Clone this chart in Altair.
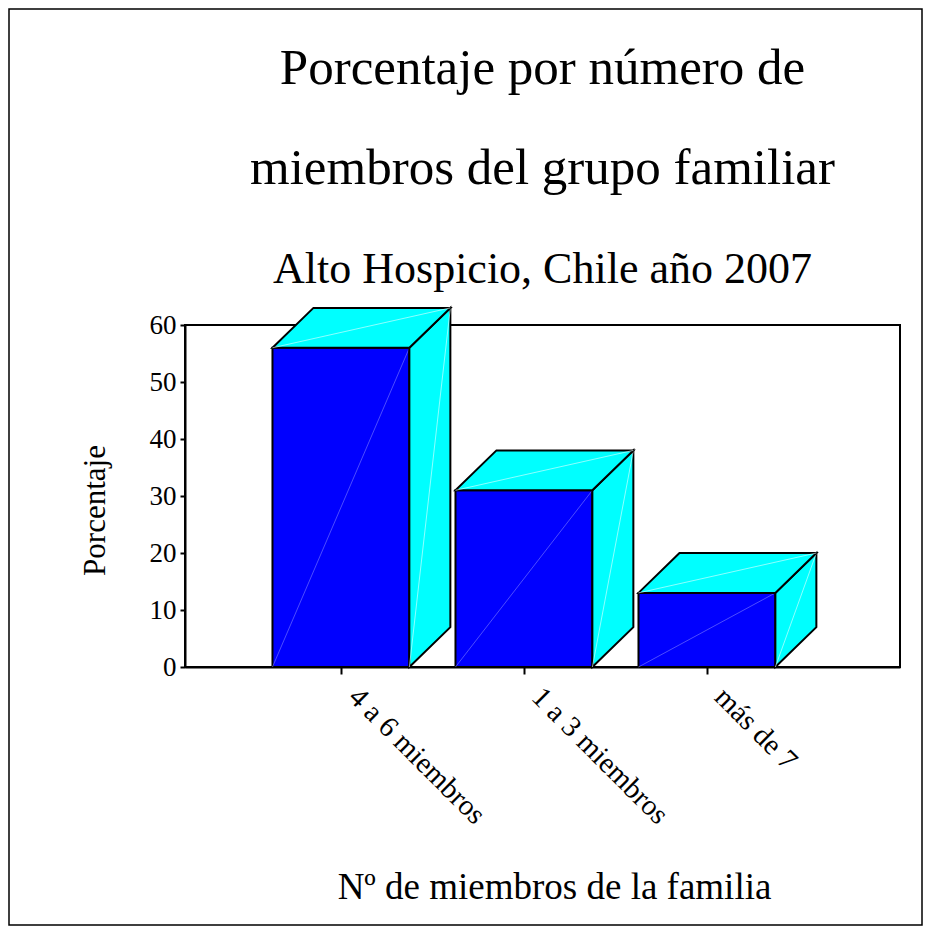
import json
import altair as alt
import pandas as pd

# ---- data ----
categories = ["4 a 6 miembros", "1 a 3 miembros", "más de 7"]
values = [56, 31, 13]

title_lines = ["Porcentaje por número de", "miembros del grupo familiar"]
subtitle = "Alto Hospicio, Chile año 2007"
x_title = "Nº de miembros de la familia"
y_title = "Porcentaje"
y_ticks = [0, 10, 20, 30, 40, 50, 60]

# ---- 3D box geometry (style) ----
HALF = 0.374      # half width of front face in category units
DX = 0.224        # depth offset in category units
DY = 7.0          # depth offset in y units

positions = list(range(1, len(categories) + 1))

front = pd.DataFrame({
    "cat": categories,
    "pos": positions,
    "v": values,
})
front["x0"] = front["pos"] - HALF
front["x1"] = front["pos"] + HALF
front["zero"] = 0.0
front["vd"] = front["v"] + DY
front["x1d"] = front["x1"] + DX

top_rows, side_rows = [], []
for _, r in front.iterrows():
    top_rows.append({"cat": r["cat"], "y": r["v"], "xa": r["x0"], "xb": r["x1"]})
    top_rows.append({"cat": r["cat"], "y": r["v"] + DY, "xa": r["x0"] + DX, "xb": r["x1"] + DX})
    side_rows.append({"cat": r["cat"], "x": r["x1"], "ylo": 0.0, "yhi": r["v"]})
    side_rows.append({"cat": r["cat"], "x": r["x1"] + DX, "ylo": DY, "yhi": r["v"] + DY})
top = pd.DataFrame(top_rows)
side = pd.DataFrame(side_rows)

FONT = "Liberation Serif"

xscale = alt.Scale(domain=[0.148, 4.055], nice=False, zero=False)
yscale = alt.Scale(domain=[0, 60], nice=False)

label_expr = json.dumps(categories) + "[datum.value - 1]"

xaxis = alt.Axis(values=positions, labelExpr=label_expr, title=x_title,
                 labelAngle=45, labelAlign="left", labelBaseline="top",
                 labelFontSize=29, labelOffset=22,
                 tickSize=7, labelPadding=8, titlePadding=40, grid=False,
                 titleFontSize=37, titleX=369, titleAlign="center")
yaxis = alt.Axis(values=y_ticks, title=y_title, tickSize=5, grid=False,
                 titlePadding=38, labelPadding=4, titleFontSize=31, titleY=185)


def X(field):
    return alt.X(field, type="quantitative", scale=xscale, axis=xaxis)


def Y(field):
    return alt.Y(field, type="quantitative", scale=yscale, axis=yaxis)


front_layer = alt.Chart(front).mark_rect(
    fill="#0000FF", stroke="black", strokeWidth=2
).encode(x=X("x0"), x2="x1", y=Y("zero"), y2="v")

front_diag = alt.Chart(front).mark_rule(color="#8888ff", strokeWidth=0.7, opacity=0.8).encode(
    x=X("x0"), x2="x1", y=Y("zero"), y2="v"
)

top_layer = alt.Chart(top).mark_area(
    orient="horizontal", fill="#00FFFF", stroke="black", strokeWidth=2, fillOpacity=1
).encode(y=Y("y"), x=X("xa"), x2="xb", detail="cat:N")

top_diag = alt.Chart(front).mark_rule(color="#e0ffff", strokeWidth=0.7, opacity=0.9).encode(
    x=X("x0"), x2="x1d", y=Y("v"), y2="vd"
)

side_layer = alt.Chart(side).mark_area(
    orient="vertical", fill="#00FFFF", stroke="black", strokeWidth=2, fillOpacity=1
).encode(x=X("x"), y=Y("ylo"), y2="yhi", detail="cat:N")

side_diag = alt.Chart(front).mark_rule(color="#e0ffff", strokeWidth=0.7, opacity=0.9).encode(
    x=X("x1"), x2="x1d", y=Y("zero"), y2="vd"
)

border = alt.Chart(pd.DataFrame({"a": [0]})).mark_rect(
    fill="transparent", stroke="black", strokeWidth=1.5
).encode(
    x=alt.value(-176), x2=alt.value(737),
    y=alt.value(-316), y2=alt.value(600),
)

chart = alt.layer(
    front_layer, front_diag, side_layer, side_diag, top_layer, top_diag, border
).properties(
    width=715,
    height=342,
    title=alt.TitleParams(
        text=title_lines,
        subtitle=subtitle,
        font=FONT, fontSize=51, fontWeight="normal", color="black",
        lineHeight=100,
        subtitleFont=FONT, subtitleFontSize=44, subtitleColor="black",
        subtitlePadding=53, offset=-285, anchor="middle",
    ),
    autosize=alt.AutoSizeParams(type="none"),
    padding={"left": 177, "top": 317, "right": 23, "bottom": 259},
).configure(
    font=FONT,
).configure_view(
    stroke="black", strokeWidth=2,
).configure_axis(
    labelFont=FONT, titleFont=FONT, labelFontSize=27,
    labelColor="black", titleColor="black", titleFontWeight="normal",
    domainColor="black", domainWidth=2, tickColor="black", tickWidth=2,
)

chart.save("out.html", embed_options={"renderer": "svg", "actions": False})
